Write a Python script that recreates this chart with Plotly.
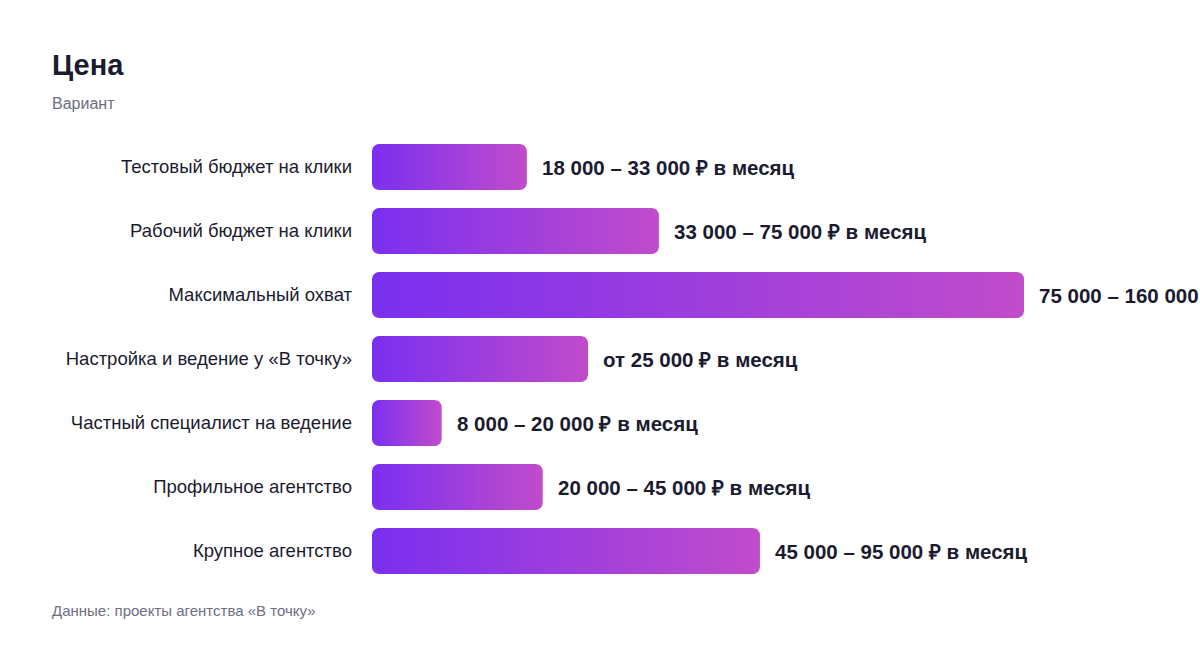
import numpy as np
import plotly.graph_objects as go

# data
categories = [
    "Тестовый бюджет на клики",
    "Рабочий бюджет на клики",
    "Максимальный охват",
    "Настройка и ведение у «В точку»",
    "Частный специалист на ведение",
    "Профильное агентство",
    "Крупное агентство",
]
bar_values = [38, 70.4, 160, 53, 17.1, 41.9, 95.2]  # bar length, thousand ₽
price_labels = [
    "18 000 – 33 000 ₽ в месяц",
    "33 000 – 75 000 ₽ в месяц",
    "75 000 – 160 000 ₽ в месяц",
    "от 25 000 ₽ в месяц",
    "8 000 – 20 000 ₽ в месяц",
    "20 000 – 45 000 ₽ в месяц",
    "45 000 – 95 000 ₽ в месяц",
]

W, H = 1200, 648
ML, MR, MT, MB = 372, 176, 135, 65
PW, PH = W - ML - MR, H - MT - MB
X_MAX = 160
n = len(categories)

FONT = "Liberation Sans, Arial, Helvetica, sans-serif"
DARK = "#1b1b2f"
GREY = "#6e6d82"
C_LEFT, C_RIGHT = "#7a2ff0", "#c14ccb"

px_x = PW / X_MAX      # pixels per x unit
px_y = PH / n          # pixels per category
half_h = 23 / px_y
rad = 7


def rounded_bar(v, c):
    rx, ry = rad / px_x, rad / px_y
    t = np.linspace(0, np.pi / 2, 8)
    xs, ys = [], []
    corners = [
        (v - rx, c - half_h + ry, -np.pi / 2),
        (v - rx, c + half_h - ry, 0),
        (rx, c + half_h - ry, np.pi / 2),
        (rx, c - half_h + ry, np.pi),
    ]
    for cx, cy, a0 in corners:
        xs += list(cx + rx * np.cos(a0 + t))
        ys += list(cy + ry * np.sin(a0 + t))
    xs.append(xs[0])
    ys.append(ys[0])
    return xs, ys


fig = go.Figure()
for i, v in enumerate(bar_values):
    xs, ys = rounded_bar(v, i)
    fig.add_trace(go.Scatter(
        x=xs, y=ys, mode="lines", fill="toself",
        line=dict(width=0),
        fillgradient=dict(type="horizontal", start=0, stop=v,
                          colorscale=[[0, C_LEFT], [1, C_RIGHT]]),
        hoverinfo="skip", showlegend=False,
    ))
    fig.add_annotation(
        x=v, y=i, xref="x", yref="y", text=price_labels[i],
        showarrow=False, xanchor="left", yanchor="middle", xshift=13,
        font=dict(family=FONT, size=20.5, color=DARK, weight="bold"),
    )


def paper_x(p):
    return (p - ML) / PW


def paper_y(p):
    return (H - MB - p) / PH


fig.add_annotation(text="<b>Цена</b>", x=paper_x(50), y=paper_y(65),
                   xref="paper", yref="paper", xanchor="left", yanchor="middle",
                   showarrow=False, font=dict(family=FONT, size=29, color=DARK))
fig.add_annotation(text="Вариант", x=paper_x(50), y=paper_y(103),
                   xref="paper", yref="paper", xanchor="left", yanchor="middle",
                   showarrow=False, font=dict(family=FONT, size=16, color=GREY))
fig.add_annotation(text="Данные: проекты агентства «В точку»", x=paper_x(50), y=paper_y(610),
                   xref="paper", yref="paper", xanchor="left", yanchor="middle",
                   showarrow=False, font=dict(family=FONT, size=15, color=GREY))

fig.update_layout(
    width=W, height=H,
    margin=dict(l=ML, r=MR, t=MT, b=MB),
    paper_bgcolor="white", plot_bgcolor="white",
    xaxis=dict(range=[0, X_MAX], visible=False, fixedrange=True),
    yaxis=dict(range=[n - 0.5, -0.5], tickvals=list(range(n)), ticktext=categories,
               showgrid=False, zeroline=False, showline=False, ticks="",
               ticklabelstandoff=19, fixedrange=True,
               tickfont=dict(family=FONT, size=18.5, color=DARK)),
)

# page without the default body margin so the chart sits at the window corner
fig.write_html("out.html", config={"displayModeBar": False},
               post_script="document.body.style.margin='0';")
